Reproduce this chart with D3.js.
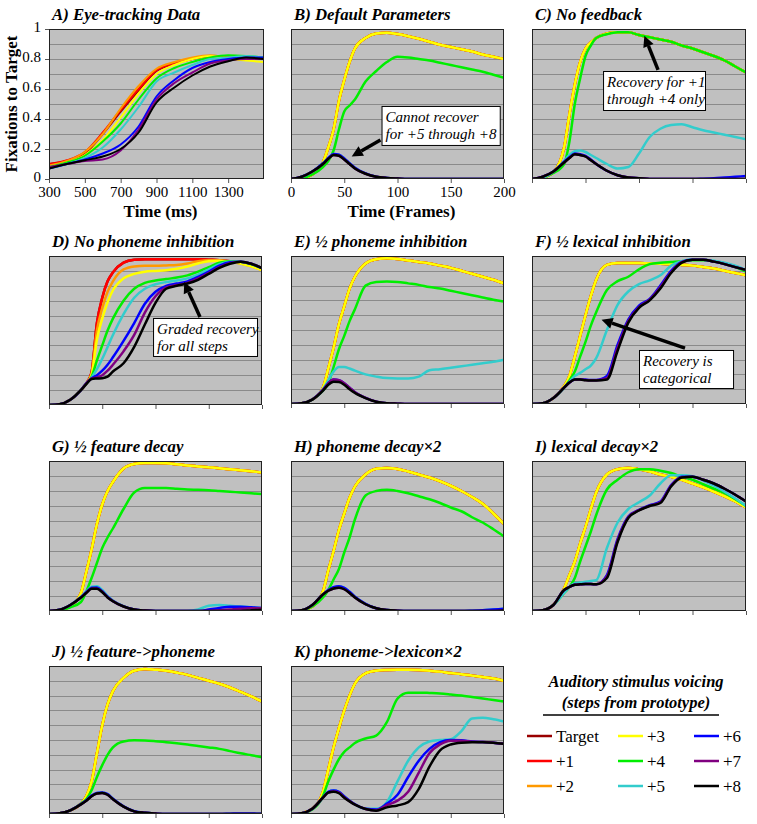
<!DOCTYPE html>
<html><head><meta charset="utf-8">
<script src="https://cdn.jsdelivr.net/npm/d3@7"></script>
<style>body{margin:0;background:#fff} svg text{font-family:"Liberation Serif","DejaVu Serif",serif;}</style></head>
<body><svg id="c" width="757" height="824"></svg>
<script>
// ---------- categories ----------
const seriesNames = ["Target","+1","+2","+3","+4","+5","+6","+7","+8"];
const seriesColors = ["#990000","#ff0000","#ff9900","#ffff00","#00ee00","#33cccc","#0000ff","#800080","#000000"];

// ---------- Panel A (ms) ----------
const msTimes = [300,400,500,600,700,800,900,1000,1100,1200,1300,1400,1500];
const A_target = [0.10,0.12,0.17,0.30,0.45,0.59,0.72,0.77,0.80,0.82,0.81,0.81,0.80];
const A_p1 = [0.10,0.125,0.18,0.31,0.46,0.60,0.725,0.77,0.80,0.82,0.81,0.81,0.80];
const A_p2 = [0.09,0.12,0.18,0.30,0.47,0.62,0.735,0.78,0.81,0.825,0.81,0.805,0.80];
const A_p3 = [0.08,0.11,0.16,0.26,0.41,0.57,0.70,0.76,0.80,0.82,0.80,0.79,0.78];
const A_p4 = [0.08,0.11,0.155,0.25,0.37,0.53,0.67,0.74,0.78,0.81,0.825,0.82,0.81];
const A_p5 = [0.07,0.10,0.14,0.21,0.33,0.48,0.65,0.71,0.76,0.80,0.81,0.82,0.81];
const A_p6 = [0.07,0.10,0.13,0.17,0.23,0.35,0.55,0.66,0.74,0.78,0.80,0.81,0.81];
const A_p7 = [0.08,0.10,0.12,0.13,0.19,0.33,0.53,0.64,0.71,0.77,0.79,0.80,0.80];
const A_p8 = [0.07,0.10,0.125,0.15,0.20,0.31,0.51,0.61,0.69,0.75,0.785,0.81,0.80];

// ---------- Simulation panels (frames) ----------
const frames = [0,10,20,30,35,40,45,50,55,60,70,80,90,100,110,120,130,140,150,160,170,180,190,200];

const B_top = [0,.005,.03,.11,.21,.33,.52,.66,.78,.87,.94,.97,.975,.966,.952,.935,.915,.895,.88,.865,.85,.83,.815,.80];
const B_green = [0,.005,.03,.08,.12,.19,.33,.45,.49,.53,.65,.72,.78,.815,.81,.80,.79,.775,.76,.745,.73,.715,.695,.675];
const B_hi = [0,.015,.05,.105,.14,.167,.162,.137,.105,.075,.037,.016,.007,.003,0,0,0,0,0,0,0,0,0,0];
const B_low = [0,.015,.05,.10,.135,.16,.155,.13,.10,.07,.035,.015,.007,.003,0,0,0,0,0,0,0,0,0,0];

const C_top = [0,.01,.045,.21,.43,.63,.78,.87,.91,.94,.97,.978,.978,.96,.945,.93,.915,.89,.87,.845,.82,.79,.75,.71];
const C_green = [0,.01,.04,.10,.25,.50,.67,.82,.89,.94,.965,.978,.978,.96,.945,.93,.915,.89,.87,.845,.82,.79,.75,.71];
const C_cyan = [0,.01,.05,.12,.16,.185,.19,.18,.16,.14,.10,.07,.08,.17,.28,.335,.36,.365,.345,.325,.31,.295,.28,.265];
const C_blue = [0,.015,.05,.115,.145,.17,.165,.155,.13,.10,.055,.025,.01,.005,0,0,0,0,0,.002,.005,.01,.015,.02];
const C_low = [0,.015,.05,.11,.14,.165,.16,.15,.125,.10,.055,.025,.01,.005,0,0,0,0,0,0,0,0,0,0];

const D_red = [0,.005,.035,.10,.145,.22,.55,.72,.83,.89,.955,.975,.978,.978,.978,.978,.978,.978,.975,.972,.965,.955,.94,.915];
const D_orange = [0,.005,.035,.10,.145,.21,.50,.65,.76,.83,.91,.93,.935,.935,.937,.94,.95,.965,.972,.97,.962,.95,.93,.905];
const D_yellow = [0,.005,.035,.10,.145,.20,.44,.58,.69,.77,.85,.88,.895,.90,.905,.915,.93,.95,.965,.968,.962,.95,.93,.905];
const D_green = [0,.005,.035,.10,.145,.19,.30,.40,.50,.58,.70,.78,.82,.835,.845,.855,.87,.895,.925,.955,.965,.962,.945,.918];
const D_cyan = [0,.005,.035,.10,.145,.185,.24,.31,.39,.47,.61,.72,.78,.81,.825,.835,.85,.875,.91,.945,.962,.962,.947,.918];
const D_blue = [0,.005,.035,.10,.145,.18,.20,.23,.27,.32,.43,.55,.68,.76,.80,.815,.83,.86,.895,.935,.958,.962,.948,.918];
const D_purple = [0,.005,.035,.10,.145,.178,.185,.20,.23,.27,.36,.47,.62,.73,.79,.805,.82,.85,.885,.925,.952,.962,.948,.918];
const D_black = [0,.005,.035,.10,.14,.175,.178,.18,.19,.225,.28,.39,.54,.685,.78,.80,.815,.84,.88,.92,.948,.962,.948,.918];

const E_top = [0,.005,.03,.11,.24,.38,.54,.66,.78,.86,.95,.978,.984,.98,.97,.96,.95,.935,.92,.90,.88,.86,.84,.816];
const E_green = [0,.005,.03,.09,.14,.25,.37,.46,.56,.64,.80,.825,.827,.825,.815,.805,.79,.78,.765,.75,.735,.72,.705,.692];
const E_cyan = [0,.005,.03,.10,.16,.22,.25,.25,.24,.225,.20,.185,.175,.173,.173,.185,.228,.235,.245,.255,.265,.275,.285,.30];
const E_hi = [0,.005,.03,.095,.14,.165,.16,.14,.11,.08,.042,.016,.005,.002,0,0,0,0,0,0,0,0,0,0];
const E_low = [0,.005,.03,.09,.13,.15,.148,.13,.10,.075,.04,.015,.005,.002,0,0,0,0,0,0,0,0,0,0];

const F_top = [0,.005,.04,.12,.19,.32,.46,.60,.73,.84,.94,.952,.953,.952,.95,.948,.945,.94,.935,.925,.915,.90,.885,.87];
const F_green = [0,.005,.04,.11,.16,.22,.32,.42,.53,.62,.77,.83,.86,.91,.945,.955,.96,.965,.972,.972,.965,.95,.925,.895];
const F_cyan = [0,.005,.04,.11,.15,.19,.21,.235,.26,.31,.50,.67,.76,.81,.835,.87,.935,.965,.978,.975,.968,.955,.935,.906];
const F_blue = [0,.005,.04,.11,.145,.165,.168,.165,.163,.163,.19,.40,.57,.665,.71,.80,.90,.96,.975,.975,.962,.945,.925,.906];
const F_purple = [0,.005,.04,.11,.145,.165,.166,.162,.16,.16,.175,.38,.56,.655,.705,.79,.89,.958,.975,.975,.962,.945,.925,.906];
const F_black = [0,.005,.04,.11,.145,.165,.165,.16,.158,.158,.165,.36,.55,.65,.70,.78,.885,.955,.975,.975,.962,.945,.925,.906];

const G_top = [0,.005,.03,.12,.26,.41,.58,.71,.80,.86,.95,.98,.987,.987,.985,.978,.97,.964,.958,.952,.945,.938,.931,.924];
const G_green = [0,.005,.025,.06,.13,.22,.32,.42,.49,.55,.68,.79,.82,.82,.82,.815,.81,.808,.805,.80,.795,.79,.785,.779];
const G_cyan = [0,.008,.04,.095,.13,.162,.165,.14,.10,.07,.032,.01,.003,0,0,0,0,.01,.035,.04,.035,.03,.025,.02];
const G_blue = [0,.008,.04,.092,.125,.155,.157,.132,.095,.067,.031,.01,.003,0,0,0,0,0,.01,.02,.028,.028,.025,.02];
const G_purple = [0,.008,.04,.09,.122,.15,.15,.128,.092,.066,.03,.01,.003,0,0,0,0,0,0,.005,.01,.015,.018,.018];
const G_black = [0,.008,.04,.09,.12,.148,.148,.125,.09,.065,.03,.01,.003,0,0,0,0,0,0,0,0,0,.005,.008];

const H_top = [0,.005,.03,.13,.27,.40,.54,.65,.755,.83,.91,.948,.953,.947,.93,.91,.89,.865,.835,.80,.76,.715,.65,.58];
const H_green = [0,.005,.03,.09,.14,.21,.28,.39,.49,.61,.77,.80,.808,.80,.785,.765,.745,.72,.69,.665,.625,.59,.545,.497];
const H_hi = [0,.005,.04,.112,.14,.158,.165,.155,.128,.095,.048,.018,.006,.002,0,0,0,0,0,0,.002,.005,.01,.015];
const H_low = [0,.005,.04,.11,.135,.15,.155,.145,.12,.09,.045,.018,.006,.002,0,0,0,0,0,0,0,0,0,.003];

const I_top = [0,.005,.04,.15,.24,.33,.45,.56,.68,.79,.91,.945,.953,.945,.93,.91,.895,.875,.85,.825,.795,.765,.73,.69];
const I_green = [0,.005,.04,.12,.16,.22,.33,.43,.53,.64,.81,.875,.925,.945,.945,.935,.92,.895,.875,.845,.815,.785,.745,.70];
const I_cyan = [0,.005,.04,.12,.16,.185,.19,.195,.20,.205,.42,.59,.68,.725,.77,.85,.905,.905,.898,.87,.835,.795,.75,.70];
const I_blue = [0,.005,.04,.14,.16,.175,.178,.18,.18,.178,.24,.48,.63,.675,.705,.73,.84,.895,.895,.875,.85,.815,.775,.73];
const I_purple = [0,.005,.04,.14,.16,.175,.178,.18,.18,.178,.23,.47,.625,.672,.702,.725,.835,.892,.895,.875,.85,.815,.775,.73];
const I_black = [0,.005,.04,.14,.16,.175,.178,.18,.18,.178,.22,.46,.62,.67,.70,.72,.83,.89,.895,.875,.85,.815,.775,.73];

const J_top = [0,.005,.025,.07,.12,.22,.41,.60,.74,.83,.92,.968,.98,.975,.968,.955,.94,.92,.90,.88,.855,.825,.795,.76];
const J_green = [0,.005,.025,.07,.10,.16,.25,.33,.40,.45,.49,.498,.497,.492,.485,.478,.47,.46,.45,.44,.425,.41,.397,.384];
const J_hi = [0,.005,.025,.067,.093,.124,.142,.146,.134,.103,.052,.019,.008,.003,0,0,0,0,0,0,.002,.004,.003,.002];
const J_low = [0,.005,.025,.065,.09,.12,.138,.142,.13,.10,.05,.018,.008,.003,0,0,0,0,0,0,0,0,0,0];

const K_top = [0,.005,.035,.15,.30,.45,.58,.70,.80,.88,.95,.968,.973,.975,.975,.973,.968,.962,.952,.945,.935,.925,.915,.90];
const K_green = [0,.005,.03,.12,.22,.30,.37,.42,.45,.48,.51,.53,.62,.78,.82,.82,.818,.815,.808,.80,.79,.78,.77,.76];
const K_cyan = [0,.005,.035,.112,.15,.158,.15,.118,.09,.066,.035,.035,.08,.22,.36,.45,.49,.50,.505,.56,.645,.65,.64,.625];
const K_blue = [0,.005,.035,.112,.15,.158,.15,.118,.09,.066,.035,.03,.07,.13,.25,.36,.44,.485,.50,.498,.49,.486,.482,.474];
const K_purple = [0,.005,.035,.11,.145,.152,.145,.113,.087,.064,.034,.025,.06,.09,.15,.28,.41,.47,.495,.495,.488,.486,.482,.474];
const K_black = [0,.005,.035,.11,.145,.15,.14,.11,.085,.063,.034,.022,.045,.058,.08,.17,.32,.43,.47,.482,.485,.485,.482,.474];

const frameTicks = [0,50,100,150,200];
const msTicks = [300,500,700,900,1100,1300];
const yTicksA = [0,0.2,0.4,0.6,0.8,1];

// ---------- layout (styles/positions) ----------
const SERIF = "Liberation Serif, DejaVu Serif, serif";
const panels = [
 {t:"A) Eye-tracking Data", b:[49,29,215,150], xs:msTimes, xd:[300,1500], xt:msTicks, lw:2,
  s:[A_target,A_p1,A_p2,A_p3,A_p4,A_p5,A_p6,A_p7,A_p8], labels:true, xlab:"Time (ms)", ylab:true},
 {t:"B) Default Parameters", b:[291,29,213,150], xs:frames, xd:[0,200], xt:frameTicks, lw:2.5,
  s:[B_top,B_top,B_top,B_top,B_green,B_hi,B_hi,B_low,B_low], labels:true, xlab:"Time (Frames)",
  note:{box:[85,196,.487,.227], lines:["Cannot recover","for +5 through +8"], from:[84,.26], to:[57,.15]}},
 {t:"C) No feedback", b:[532,29,214,150], xs:frames, xd:[0,200], xt:frameTicks, lw:2.5,
  s:[C_top,C_top,C_top,C_top,C_green,C_cyan,C_blue,C_low,C_low],
  note:{box:[66.4,161.7,.72,.46], lines:["Recovery for +1","through +4 only"], from:[117.8,.727], to:[105,.955]}},
 {t:"D) No phoneme inhibition", b:[49,256,213,149], xs:frames, xd:[0,200], xt:frameTicks, lw:2.5,
  s:[D_red,D_red,D_orange,D_yellow,D_green,D_cyan,D_blue,D_purple,D_black],
  note:{box:[97.7,195.3,.584,.329], lines:["Graded recovery","for all steps"], from:[141.8,.59], to:[127,.825]}},
 {t:"E) \u00BD phoneme inhibition", b:[291,256,213,148], xs:frames, xd:[0,200], xt:frameTicks, lw:2.5,
  s:[E_top,E_top,E_top,E_top,E_green,E_cyan,E_hi,E_hi,E_low]},
 {t:"F) \u00BD lexical inhibition", b:[532,256,214,148], xs:frames, xd:[0,200], xt:frameTicks, lw:2.5,
  s:[F_top,F_top,F_top,F_top,F_green,F_cyan,F_blue,F_purple,F_black],
  note:{box:[100,187.9,.365,.108], lines:["Recovery is","categorical"], from:[143,.378], to:[65,.57]}},
 {t:"G) \u00BD feature decay", b:[49,461,213,150], xs:frames, xd:[0,200], xt:frameTicks, lw:2.5,
  s:[G_top,G_top,G_top,G_top,G_green,G_cyan,G_blue,G_purple,G_black]},
 {t:"H) phoneme decay\u00D72", b:[291,461,213,150], xs:frames, xd:[0,200], xt:frameTicks, lw:2.5,
  s:[H_top,H_top,H_top,H_top,H_green,H_hi,H_hi,H_low,H_low]},
 {t:"I) lexical decay\u00D72", b:[532,461,214,150], xs:frames, xd:[0,200], xt:frameTicks, lw:2.5,
  s:[I_top,I_top,I_top,I_top,I_green,I_cyan,I_blue,I_purple,I_black]},
 {t:"J) \u00BD feature->phoneme", b:[49,666,213,148], xs:frames, xd:[0,200], xt:frameTicks, lw:2.5,
  s:[J_top,J_top,J_top,J_top,J_green,J_hi,J_hi,J_low,J_low]},
 {t:"K) phoneme->lexicon\u00D72", b:[291,666,213,148], xs:frames, xd:[0,200], xt:frameTicks, lw:2.5,
  s:[K_top,K_top,K_top,K_top,K_green,K_cyan,K_blue,K_purple,K_black]}
];

const svg = d3.select("#c");
const defs = svg.append("defs");
function txt(sel, size, bold, italic) {
  return sel.style("font-family", SERIF).style("font-size", size + "px")
    .style("font-weight", bold ? "bold" : "normal").style("font-style", italic ? "italic" : "normal")
    .attr("fill", "#000");
}

panels.forEach((p, pi) => {
  const [L, T, W, H] = p.b;
  const x = d3.scaleLinear().domain(p.xd).range([L, L + W]);
  const y = d3.scaleLinear().domain([0, 1]).range([T + H, T]);
  const g = svg.append("g");

  g.append("rect").attr("x", L).attr("y", T).attr("width", W).attr("height", H)
    .attr("fill", "#c0c0c0");
  g.selectAll("line.grid").data(y.ticks(10).filter(v => v > 0.01 && v < 0.99)).join("line")
    .attr("x1", L).attr("x2", L + W).attr("y1", d => Math.round(y(d)) + 0.5).attr("y2", d => Math.round(y(d)) + 0.5)
    .attr("stroke", "#8a8a8a").attr("stroke-width", 1);

  defs.append("clipPath").attr("id", "clip" + pi).append("rect")
    .attr("x", L).attr("y", T - 2).attr("width", W).attr("height", H + 2);

  const line = d3.line().x((d, i) => x(p.xs[i])).y(d => y(d)).curve(d3.curveMonotoneX);
  g.append("g").attr("clip-path", `url(#clip${pi})`)
    .selectAll("path").data(p.s).join("path")
    .attr("d", line).attr("fill", "none")
    .attr("stroke", (d, i) => seriesColors[i]).attr("stroke-width", p.lw)
    .attr("stroke-linejoin", "round").attr("stroke-linecap", "round");

  g.append("rect").attr("x", L + 0.5).attr("y", T + 0.5).attr("width", W - 1).attr("height", H - 1)
    .attr("fill", "none").attr("stroke", "#222").attr("stroke-width", 1);

  const xa = d3.axisBottom(x).tickValues(p.xt).tickSize(4).tickPadding(3).tickFormat(d3.format("d"));
  if (!p.labels) xa.tickFormat("");
  const xg = g.append("g").attr("transform", `translate(0,${T + H})`).call(xa);
  xg.select(".domain").remove();
  xg.selectAll("line").attr("stroke", "#555");
  txt(xg.selectAll("text"), 15, false, false);

  if (p.ylab) {
    const ya = d3.axisLeft(y).tickValues(yTicksA).tickSize(4).tickPadding(4).tickFormat(d3.format("~g"));
    const yg = g.append("g").attr("transform", `translate(${L},0)`).call(ya);
    yg.select(".domain").remove();
    yg.selectAll("line").attr("stroke", "#555");
    txt(yg.selectAll("text"), 15, false, false).attr("dy", "0.18em");
    txt(g.append("text").attr("transform", `translate(17,${T + H / 2}) rotate(-90)`)
      .attr("text-anchor", "middle"), 17, true, false).text("Fixations to Target");
  }
  if (p.xlab) {
    txt(g.append("text").attr("x", L + W / 2 + 4).attr("y", T + H + 38)
      .attr("text-anchor", "middle"), 17, true, false).text(p.xlab);
  }

  txt(g.append("text").attr("x", L + 3).attr("y", T - 9), 16.8, true, true).text(p.t);

  if (p.note) {
    const n = p.note;
    const bx = x(n.box[0]), bx2 = x(n.box[1]), by = y(n.box[2]), by2 = y(n.box[3]);
    g.append("rect").attr("x", bx + 0.5).attr("y", by + 0.5).attr("width", bx2 - bx).attr("height", by2 - by)
      .attr("fill", "#fff").attr("stroke", "#000").attr("stroke-width", 1);
    n.lines.forEach((s, i) => {
      txt(g.append("text").attr("x", bx + 4).attr("y", by + 16 + i * 17), 15, false, true).text(s);
    });
    const x1 = x(n.from[0]), y1 = y(n.from[1]), x2 = x(n.to[0]), y2 = y(n.to[1]);
    const ang = Math.atan2(y2 - y1, x2 - x1), hl = 11, hw = 5.5;
    const bxh = x2 - hl * Math.cos(ang), byh = y2 - hl * Math.sin(ang);
    g.append("line").attr("x1", x1).attr("y1", y1).attr("x2", bxh).attr("y2", byh)
      .attr("stroke", "#000").attr("stroke-width", 3.5);
    const px = -Math.sin(ang), py = Math.cos(ang);
    g.append("path").attr("d", `M${x2},${y2}L${bxh + px * hw},${byh + py * hw}L${bxh - px * hw},${byh - py * hw}Z`)
      .attr("fill", "#000");
  }
});

// ---------- legend ----------
const lg = svg.append("g");
txt(lg.append("text").attr("x", 636).attr("y", 687).attr("text-anchor", "middle"), 16.5, true, true)
  .text("Auditory stimulus voicing");
txt(lg.append("text").attr("x", 636).attr("y", 708).attr("text-anchor", "middle"), 16.5, true, true)
  .text("(steps from prototype)");
lg.append("line").attr("x1", 543).attr("x2", 719).attr("y1", 715).attr("y2", 715)
  .attr("stroke", "#000").attr("stroke-width", 1.5);
const legCols = [527, 618, 694], legRows = [736, 761, 786];
seriesNames.forEach((name, i) => {
  const cx = legCols[Math.floor(i / 3)], cy = legRows[i % 3];
  lg.append("line").attr("x1", cx).attr("x2", cx + 25).attr("y1", cy).attr("y2", cy)
    .attr("stroke", seriesColors[i]).attr("stroke-width", 2.5);
  txt(lg.append("text").attr("x", cx + 29).attr("y", cy + 6), 17, false, false).text(name);
});
</script>
</body></html>
